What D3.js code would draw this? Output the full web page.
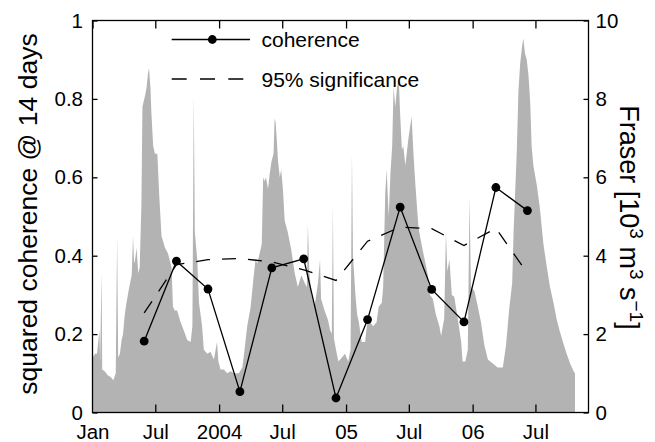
<!DOCTYPE html>
<html><head><meta charset="utf-8">
<script src="https://cdn.jsdelivr.net/npm/d3@7"></script>
<style>
body{margin:0;background:#fff}
svg{display:block}
text{font-family:"Liberation Sans",Arial,Helvetica,sans-serif;fill:#000}
</style>
</head><body>
<svg id="chart" width="655" height="442"></svg>
<script>
// ---- data ----
const xTickDates = ["2003-01-01","2003-07-01","2004-01-01","2004-07-01","2005-01-01","2005-07-01","2006-01-01","2006-07-01"];
const xTickLabels = ["Jan","Jul","2004","Jul","05","Jul","06","Jul"];
const leftTicks = [0,0.2,0.4,0.6,0.8,1];
const leftTickLabels = ["0","0.2","0.4","0.6","0.8","1"];
const rightTicks = [0,2,4,6,8,10];
const coherenceDates = ["2003-05-30","2003-08-31","2003-11-30","2004-03-01","2004-06-01","2004-09-01","2004-12-03","2005-03-04","2005-06-06","2005-09-05","2005-12-07","2006-03-09","2006-06-08"];
const coherence = [0.182,0.386,0.315,0.053,0.369,0.392,0.037,0.237,0.524,0.314,0.231,0.574,0.515];
const significance = [0.254,0.377,0.390,0.393,0.384,0.364,0.337,0.437,0.473,0.469,0.426,0.470,0.355];
// Fraser discharge (10^3 m^3/s); days since 2003-01-01
const fraserDay = [0,1,7,13,20,22,26,28,35,44,53,60,67,71,74,79,84,88,93,98,106,113,117,120,123,127,132,136,141,144,148,152,156,160,163,167,170,175,180,187,192,199,209,218,228,232,237,244,254,263,273,283,288,292,295,302,307,316,321,331,340,350,359,363,369,379,388,398,408,422,432,437,446,456,465,470,475,483,488,492,496,500,506,511,516,522,525,528,531,535,540,544,549,554,563,573,583,592,602,612,618,621,625,631,640,650,656,659,669,679,685,690,693,696,702,709,719,728,737,744,748,751,758,763,768,776,786,792,800,809,819,825,834,838,844,848,854,859,864,868,873,878,883,887,892,896,902,911,920,926,931,940,950,960,967,973,981,990,1000,1005,1014,1019,1023,1029,1036,1043,1053,1063,1067,1075,1082,1087,1091,1101,1111,1120,1130,1140,1154,1168,1183,1192,1202,1210,1214,1218,1223,1228,1233,1238,1242,1247,1252,1257,1262,1266,1271,1281,1290,1300,1310,1319,1329,1339,1348,1358,1367,1377,1387,1391];
const fraserFlow = [1.4,1.4,1.5,1.5,2.1,1.3,3.6,1.1,1.05,0.95,0.9,0.82,1.0,4.5,1.4,1.5,1.85,2.0,2.5,2.8,3.2,3.5,4.5,3.8,3.9,4.2,3.55,3.7,5.3,7.8,7.95,8.1,8.3,8.65,8.78,8.3,7.6,6.8,6.6,6.6,5.6,4.5,4.2,4.05,3.7,2.7,2.6,2.6,2.3,2.1,1.85,1.8,2.2,8.1,4.6,3.9,2.8,2.2,1.6,1.5,1.55,1.35,1.8,1.3,1.1,1.1,1.0,1.05,1.0,1.0,1.15,1.5,2.2,2.7,3.5,3.9,3.8,4.1,4.3,6.0,5.9,6.0,5.7,6.1,6.4,6.6,7.5,7.4,7.0,6.4,6.0,6.2,5.7,4.9,4.6,4.15,3.55,3.2,3.5,3.3,3.2,4.8,3.6,3.0,2.7,3.3,3.9,2.9,2.6,2.36,2.1,2.0,5.3,1.9,1.6,1.3,1.4,1.5,1.3,1.6,6.6,4.0,3.0,2.5,2.3,1.8,1.8,2.3,2.3,2.2,2.3,2.7,2.8,3.2,5.6,6.2,5.0,6.1,6.8,8.3,7.8,8.3,8.5,7.6,6.7,6.8,6.3,7.0,7.55,6.5,5.8,4.7,4.23,3.8,3.5,3.0,2.9,2.5,2.2,1.95,2.4,4.6,3.6,3.9,3.0,2.95,2.4,1.8,1.3,1.3,1.6,5.5,3.2,3.1,2.7,2.3,1.7,1.35,1.25,1.15,1.15,1.7,2.7,3.3,4.6,5.5,6.6,8.2,8.9,9.3,9.55,9.15,9.0,8.6,7.9,6.8,6.3,5.8,5.2,4.3,3.7,3.2,2.8,2.35,2.05,1.75,1.5,1.25,1.05,1.0];

// ---- layout ----
const L = 92.5, R = 588.5, T = 20.5, B = 412.5;
const parse = d3.utcParse("%Y-%m-%d");
const start = parse("2003-01-01");
const svg = d3.select("#chart");

const x = d3.scaleUtc().domain([start, parse("2006-12-01")]).range([L, R]);
const yL = d3.scaleLinear().domain([0, 1]).range([B, T]);
const yR = d3.scaleLinear().domain([0, 10]).range([B, T]);

// Fraser area
const fraser = fraserDay.map((d, i) => ({date: d3.utcDay.offset(start, d), v: fraserFlow[i]}));
svg.append("path")
  .datum(fraser)
  .attr("fill", "#b3b3b3")
  .attr("d", d3.area().x(d => x(d.date)).y0(yR(0)).y1(d => yR(d.v)));

// significance dashed line
const coh = coherenceDates.map((d, i) => ({date: parse(d), c: coherence[i], s: significance[i]}));
svg.append("path")
  .datum(coh)
  .attr("fill", "none").attr("stroke", "#000").attr("stroke-width", 1.3)
  .attr("stroke-dasharray", "14,12")
  .attr("d", d3.line().x(d => x(d.date)).y(d => yL(d.s)));

// coherence line + markers
svg.append("path")
  .datum(coh)
  .attr("fill", "none").attr("stroke", "#000").attr("stroke-width", 1.3)
  .attr("d", d3.line().x(d => x(d.date)).y(d => yL(d.c)));
svg.append("g").selectAll("circle").data(coh).join("circle")
  .attr("cx", d => x(d.date)).attr("cy", d => yL(d.c)).attr("r", 4.4).attr("fill", "#000");

// axes
const tickDates = xTickDates.map(parse);
const fmtX = d => xTickLabels[tickDates.findIndex(t => +t === +d)];
const axB = svg.append("g").attr("transform", `translate(0,${B})`)
  .call(d3.axisBottom(x).tickValues(tickDates).tickFormat(fmtX).tickSizeInner(-8).tickSizeOuter(0).tickPadding(12));
const axT = svg.append("g").attr("transform", `translate(0,${T})`)
  .call(d3.axisTop(x).tickValues(tickDates).tickFormat("").tickSizeInner(-8).tickSizeOuter(0));
const axL = svg.append("g").attr("transform", `translate(${L},0)`)
  .call(d3.axisLeft(yL).tickValues(leftTicks).tickFormat((d, i) => leftTickLabels[i]).tickSizeInner(-5).tickSizeOuter(0).tickPadding(9.5));
const axR = svg.append("g").attr("transform", `translate(${R},0)`)
  .call(d3.axisRight(yR).tickValues(rightTicks).tickFormat(d3.format("d")).tickSizeInner(-5).tickSizeOuter(0).tickPadding(7));
[axB, axT, axL, axR].forEach(a => {
  a.select(".domain").remove();
  a.selectAll("line").attr("stroke", "#000").attr("stroke-width", 1.3);
  a.selectAll("text").attr("font-size", 20.5).attr("font-family", '"Liberation Sans",Arial,sans-serif').attr("fill", "#000");
});
axB.selectAll(".tick").filter((d, i) => i === 0).select("line").remove();

// frame
svg.append("rect").attr("x", L).attr("y", T).attr("width", R - L).attr("height", B - T)
  .attr("fill", "none").attr("stroke", "#000").attr("stroke-width", 1.3);

// axis titles
svg.append("text").attr("transform", `translate(37,214) rotate(-90)`)
  .attr("text-anchor", "middle").attr("font-size", 26.5).text("squared coherence @ 14 days");
const rt = svg.append("text").attr("transform", `translate(620,217.5) rotate(90)`)
  .attr("text-anchor", "middle").attr("font-size", 27);
rt.append("tspan").text("Fraser [10");
rt.append("tspan").attr("dy", -10).attr("font-size", 19).text("3");
rt.append("tspan").attr("dy", 10).text(" m");
rt.append("tspan").attr("dy", -10).attr("font-size", 19).text("3");
rt.append("tspan").attr("dy", 10).text(" s");
rt.append("tspan").attr("dy", -10).attr("font-size", 19).text("\u22121");
rt.append("tspan").attr("dy", 10).text("]");

// legend
const lg = svg.append("g");
lg.append("line").attr("x1", 171.7).attr("x2", 250).attr("y1", 39.5).attr("y2", 39.5)
  .attr("stroke", "#000").attr("stroke-width", 1.3);
lg.append("circle").attr("cx", 212.3).attr("cy", 39.5).attr("r", 4.4).attr("fill", "#000");
lg.append("text").attr("x", 261.5).attr("y", 46.8).attr("font-size", 21).text("coherence");
lg.append("line").attr("x1", 171.7).attr("x2", 250).attr("y1", 79).attr("y2", 79)
  .attr("stroke", "#000").attr("stroke-width", 1.3).attr("stroke-dasharray", "15,13.3");
lg.append("text").attr("x", 261.5).attr("y", 87).attr("font-size", 21).text("95% significance");
</script>
</body></html>
